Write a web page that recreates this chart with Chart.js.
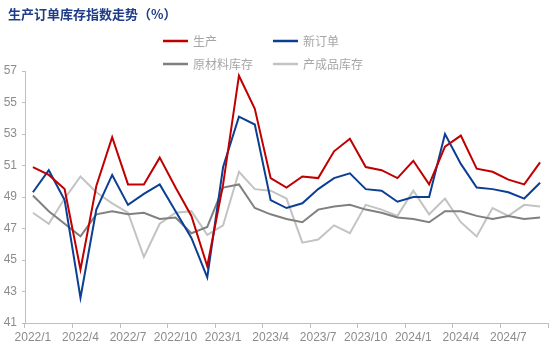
<!DOCTYPE html>
<html>
<head>
<meta charset="utf-8">
<script src="https://cdn.jsdelivr.net/npm/chart.js@4/dist/chart.umd.min.js"></script>
<style>
  html, body { margin: 0; padding: 0; background: #fff; }
  #wrap { width: 554px; height: 351px; position: relative; }
</style>
</head>
<body>
<div id="wrap"><canvas id="pmiChart"></canvas></div>
<script>
const months = [
  '2022/1', '2022/2', '2022/3', '2022/4', '2022/5', '2022/6', '2022/7', '2022/8', '2022/9', '2022/10', '2022/11', '2022/12',
  '2023/1', '2023/2', '2023/3', '2023/4', '2023/5', '2023/6', '2023/7', '2023/8', '2023/9', '2023/10', '2023/11', '2023/12',
  '2024/1', '2024/2', '2024/3', '2024/4', '2024/5', '2024/6', '2024/7', '2024/8', '2024/9'
];

const shengchan = [50.9, 50.4, 49.5, 44.4, 49.7, 52.8, 49.8, 49.8, 51.5, 49.6, 47.8, 44.6,
  49.8, 56.7, 54.6, 50.2, 49.6, 50.3, 50.2, 51.9, 52.7, 50.9, 50.7, 50.2,
  51.3, 49.8, 52.2, 52.9, 50.8, 50.6, 50.1, 49.8, 51.2];
const xindingdan = [49.3, 50.7, 48.8, 42.6, 48.2, 50.4, 48.5, 49.2, 49.8, 48.1, 46.4, 43.9,
  50.9, 54.1, 53.6, 48.8, 48.3, 48.6, 49.5, 50.2, 50.5, 49.5, 49.4, 48.7,
  49.0, 49.0, 53.0, 51.1, 49.6, 49.5, 49.3, 48.9, 49.9];
const yuancailiao = [49.1, 48.1, 47.3, 46.5, 47.9, 48.1, 47.9, 48.0, 47.6, 47.7, 46.7, 47.1,
  49.6, 49.8, 48.3, 47.9, 47.6, 47.4, 48.2, 48.4, 48.5, 48.2, 48.0, 47.7,
  47.6, 47.4, 48.1, 48.1, 47.8, 47.6, 47.8, 47.6, 47.7];
const chanchengpin = [48.0, 47.3, 48.9, 50.3, 49.3, 48.6, 48.0, 45.2, 47.3, 48.0, 48.1, 46.6,
  47.2, 50.6, 49.5, 49.4, 48.9, 46.1, 46.3, 47.2, 46.7, 48.5, 48.2, 47.8,
  49.4, 47.9, 48.9, 47.4, 46.5, 48.3, 47.8, 48.5, 48.4];

const axisColor = '#bfbfbf';
const labelColor = '#8c8c8c';

function line(label, data, color) {
  return {
    label: label,
    data: data,
    borderColor: color,
    backgroundColor: color,
    borderWidth: 2,
    pointRadius: 0,
    tension: 0
  };
}

// title and two-row legend drawn on the canvas
const header = {
  id: 'header',
  afterDraw(chart) {
    const c = chart.ctx;
    c.save();
    c.fillStyle = '#1f3c88';
    c.font = 'bold 13px "Noto Sans CJK SC"';
    c.textBaseline = 'middle';
    c.textAlign = 'left';
    c.fillText('生产订单库存指数走势（%）', 8, 14);

    const spots = [[163, 41], [273, 41], [163, 64], [273, 64]];
    c.font = '12px "Noto Sans CJK SC"';
    chart.data.datasets.forEach((ds, i) => {
      const [x, y] = spots[i];
      c.strokeStyle = ds.borderColor;
      c.lineWidth = 2.5;
      c.beginPath();
      c.moveTo(x, y);
      c.lineTo(x + 25, y);
      c.stroke();
      c.fillStyle = '#a6a6a6';
      c.fillText(ds.label, x + 30, y);
    });
    c.restore();
  }
};

const ctx = document.getElementById('pmiChart').getContext('2d');
const pmiChart = new Chart(ctx, {
  type: 'line',
  data: {
    labels: months,
    datasets: [
      line('生产', shengchan, '#c00000'),
      line('新订单', xindingdan, '#0b3f94'),
      line('原材料库存', yuancailiao, '#808080'),
      line('产成品库存', chanchengpin, '#c3c3c3')
    ]
  },
  options: {
    responsive: true,
    maintainAspectRatio: false,
    animation: false,
    layout: {
      padding: { top: 71, right: 6, left: 0, bottom: 0 }
    },
    scales: {
      x: {
        offset: true,
        afterFit: (s) => { s.height = 28; },
        grid: {
          offset: true,
          drawOnChartArea: false,
          tickLength: 5,
          color: (c) => (c.type !== 'tick' || c.index % 3 === 0) ? axisColor : 'transparent'
        },
        border: { color: axisColor },
        ticks: {
          autoSkip: false,
          maxRotation: 0,
          padding: 2,
          color: labelColor,
          font: { family: '"Liberation Sans", Arial', size: 12 },
          callback: function (v, i) {
            return i % 3 === 0 ? this.getLabelForValue(v) : '';
          }
        }
      },
      y: {
        min: 41,
        max: 57,
        afterFit: (s) => { s.width = 25; },
        grid: {
          drawOnChartArea: false,
          tickLength: 3,
          color: axisColor
        },
        border: { color: axisColor },
        ticks: {
          stepSize: 2,
          padding: 5,
          color: labelColor,
          font: { family: '"Liberation Sans", Arial', size: 12 }
        }
      }
    },
    plugins: {
      legend: { display: false },
      title: { display: false },
      tooltip: { enabled: false }
    }
  },
  plugins: [header]
});
</script>
</body>
</html>
